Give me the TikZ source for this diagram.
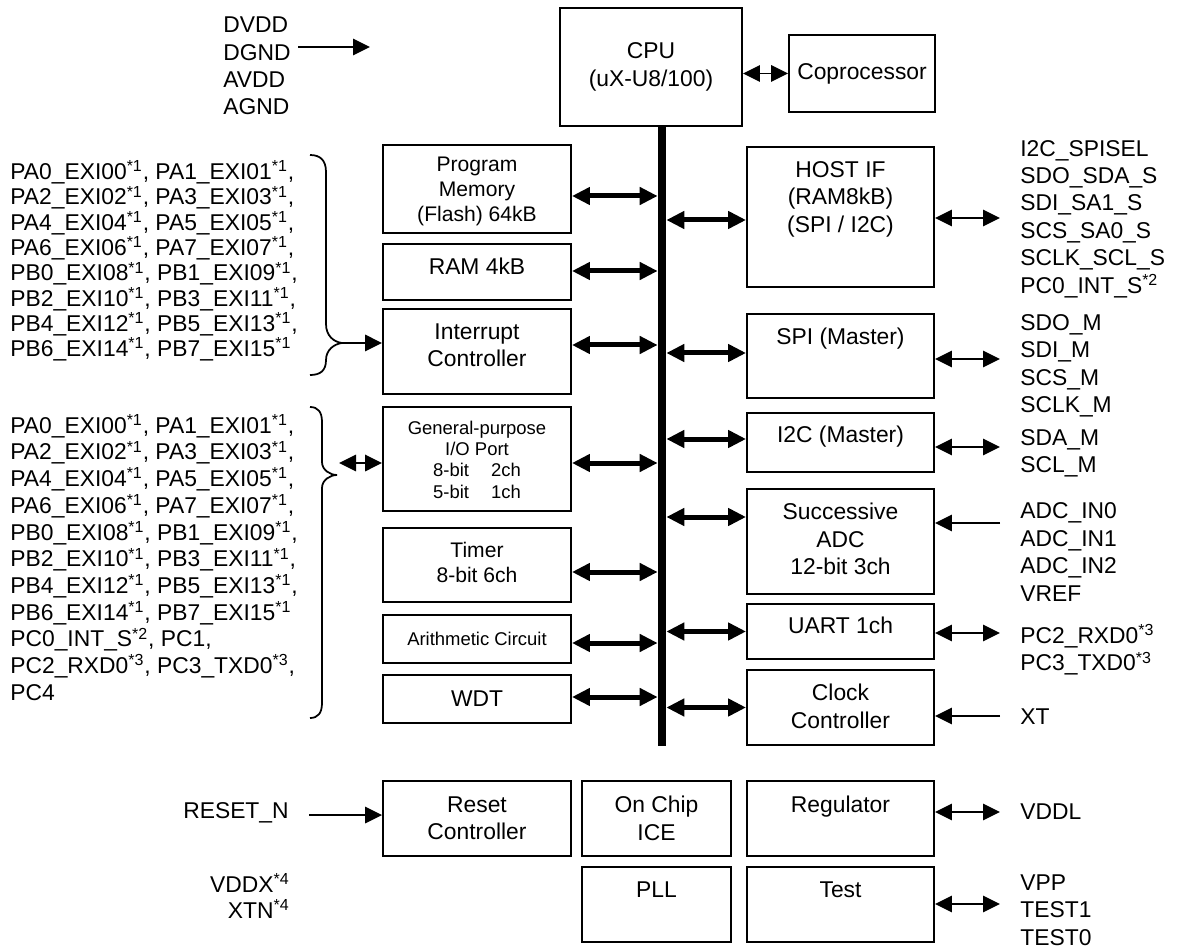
\documentclass[tikz,border=0pt]{standalone}
\usepackage{fontspec}
\setmainfont{Liberation Sans}
\usetikzlibrary{arrows.meta}
\newcommand\pinnote[1]{\textsuperscript{*#1}}

\begin{document}
\begin{tikzpicture}[x=0.2mm,y=-0.2mm,
  font=\fontsize{13}{15.6}\selectfont,
  blk/.style={draw,line width=1.1pt,inner sep=0pt},
  lcol/.style={blk,minimum width=37.6mm},
  rcol/.style={blk,minimum width=37.4mm},
  intext/.style={anchor=north,align=center,inner sep=0pt,yshift=-3mm},
  busarr/.style={line width=1mm,{Triangle[length=3.6mm,width=3.4mm]}-{Triangle[length=3.6mm,width=3.4mm]}},
  pinarr/.style={line width=0.35mm,-{Triangle[length=3.4mm,width=3.3mm]}},
  pinbi/.style={line width=0.35mm,{Triangle[length=3.4mm,width=3.3mm]}-{Triangle[length=3.4mm,width=3.3mm]}},
  pins/.style={align=left,anchor=west,inner sep=0pt}]
  \useasboundingbox (0,0) rectangle (1181,950);

  % cpu and bus
  \node[blk,minimum width=36.4mm,minimum height=23.6mm,align=center] (cpu) at (651,67) {CPU\\(uX-U8/100)};
  \node[blk,minimum width=29.2mm,minimum height=15.4mm] (cop) at (862,73.5) {Coprocessor};
  \draw[pinbi] (cpu.east |- cop.west) -- (cop.west);
  \node[fill,inner sep=0pt,minimum width=1.6mm,minimum height=124mm] (bus) at (662,436) {};

  % left blocks
  \node[lcol,minimum height=17.6mm,label={[intext,yshift=0.4mm,font=\fontsize{12}{14}\selectfont]north:Program\\Memory\\(Flash) 64kB}] (pm) at (477,189) {};
  \node[lcol,minimum height=11.2mm,label={[intext]north:RAM 4kB}] (ram) at (477,272) {};
  \node[lcol,minimum height=17mm,label={[intext]north:Interrupt\\Controller}] (int) at (477,351.5) {};
  \node[lcol,minimum height=20.8mm,label={[intext,font=\fontsize{10.5}{12}\selectfont]north:General-purpose\\I/O Port\\8-bit\hspace{1.2em}2ch\\5-bit\hspace{1.2em}1ch}] (gpio) at (477,459) {};
  \node[lcol,minimum height=14.8mm,label={[intext,font=\fontsize{12}{14.2}\selectfont]north:Timer\\8-bit 6ch}] (timer) at (477,565) {};
  \node[lcol,minimum height=9.6mm,font=\fontsize{10.5}{12}\selectfont] (arith) at (477,639) {Arithmetic Circuit};
  \node[lcol,minimum height=9.6mm] (wdt) at (477,699) {WDT};

  % right blocks
  \node[rcol,minimum height=28mm,label={[intext]north:HOST IF\\(RAM8kB)\\(SPI / I2C)}] (host) at (840.5,217) {};
  \node[rcol,minimum height=16.8mm,label={[intext]north:SPI (Master)}] (spi) at (840.5,356) {};
  \node[rcol,minimum height=11.8mm,label={[intext,yshift=0.2mm]north:I2C (Master)}] (i2c) at (840.5,442.5) {};
  \node[rcol,minimum height=21mm,label={[intext]north:Successive\\ADC\\12-bit 3ch}] (adc) at (840.5,541.5) {};
  \node[rcol,minimum height=11mm,label={[intext,yshift=0.2mm]north:UART 1ch}] (uart) at (840.5,631.5) {};
  \node[rcol,minimum height=15mm,label={[intext]north:Clock\\Controller}] (clk) at (840.5,707.5) {};

  \foreach \b/\s in {pm/-1.4,ram/0.2,int/1.3,gpio/-0.8,timer/-1.4,arith/-0.8,wdt/0.4}
    \draw[busarr] ([yshift=\s mm]\b.east) -- ([yshift=\s mm]bus.west |- \b.east);
  \foreach \b/\s in {host/-0.6,spi/0.6,i2c/0.7,adc/4.9,uart/0,clk/0}
    \draw[busarr] ([yshift=\s mm]bus.east |- \b.west) -- ([yshift=\s mm]\b.west);

  % bottom row
  \node[lcol,minimum height=15mm,label={[intext,yshift=-0.2mm]north:Reset\\Controller}] (reset) at (477,818.5) {};
  \node[blk,minimum width=29.8mm,minimum height=15mm,label={[intext,yshift=-0.2mm]north:On Chip\\ICE}] (ice) at (656.5,818.5) {};
  \node[rcol,minimum height=15mm,label={[intext,yshift=-0.2mm]north:Regulator}] (reg) at (840.5,818.5) {};
  \node[blk,minimum width=29.8mm,minimum height=15mm,label={[intext]north:PLL}] (pll) at (656.5,904.5) {};
  \node[rcol,minimum height=15mm,label={[intext]north:Test}] (test) at (840.5,904.5) {};

  % pins on the left
  \node[pins] (pwrpins) at (223,66) {DVDD\\DGND\\AVDD\\AGND};
  \coordinate (pwri) at (298,47);
  \coordinate (pwro) at (370,47);
  \draw[pinarr] (pwri) -- (pwro);

  \node[pins,font=\fontsize{13}{14.4}\selectfont] (intpins) at (10,261) {PA0\_EXI00\pinnote1, PA1\_EXI01\pinnote1,\\PA2\_EXI02\pinnote1, PA3\_EXI03\pinnote1,\\PA4\_EXI04\pinnote1, PA5\_EXI05\pinnote1,\\PA6\_EXI06\pinnote1, PA7\_EXI07\pinnote1,\\PB0\_EXI08\pinnote1, PB1\_EXI09\pinnote1,\\PB2\_EXI10\pinnote1, PB3\_EXI11\pinnote1,\\PB4\_EXI12\pinnote1, PB5\_EXI13\pinnote1,\\PB6\_EXI14\pinnote1, PB7\_EXI15\pinnote1};
  \draw[line width=0.35mm] (310,155) .. controls (320,155) and (326,160) .. (326,172) -- (326,324)
    .. controls (326,336) and (334,342) .. (342,343) .. controls (334,344) and (326,350) .. (326,360)
    .. controls (326,371) and (320,375) .. (310,375);
  \coordinate (intin) at (342,343);
  \draw[pinarr] (intin) -- (intin -| int.west);

  \node[pins,font=\fontsize{13}{15.2}\selectfont] (iopins) at (10,557.5) {PA0\_EXI00\pinnote1, PA1\_EXI01\pinnote1,\\PA2\_EXI02\pinnote1, PA3\_EXI03\pinnote1,\\PA4\_EXI04\pinnote1, PA5\_EXI05\pinnote1,\\PA6\_EXI06\pinnote1, PA7\_EXI07\pinnote1,\\PB0\_EXI08\pinnote1, PB1\_EXI09\pinnote1,\\PB2\_EXI10\pinnote1, PB3\_EXI11\pinnote1,\\PB4\_EXI12\pinnote1, PB5\_EXI13\pinnote1,\\PB6\_EXI14\pinnote1, PB7\_EXI15\pinnote1\\PC0\_INT\_S\pinnote2, PC1,\\PC2\_RXD0\pinnote3, PC3\_TXD0\pinnote3,\\PC4};
  \draw[line width=0.35mm] (310,407) .. controls (318,407) and (322,412) .. (322,422) -- (322,462)
    .. controls (322,470) and (330,475) .. (337,475) .. controls (330,475) and (322,480) .. (322,488)
    -- (322,703) .. controls (322,713) and (318,718) .. (310,718);
  \coordinate (gpin) at (339,463);
  \draw[pinbi] (gpin) -- (gpin -| gpio.west);

  \node[pins,anchor=east] (rstpin) at (289,813) {RESET\_N};
  \coordinate (rsti) at (309,815);
  \draw[pinarr] (rsti) -- (rsti -| reset.west);
  \node[pins,anchor=east,align=right,font=\fontsize{13}{14.5}\selectfont] (xpins) at (290,896) {VDDX\pinnote4\\XTN\pinnote4};

  % pins on the right
  \node[pins] (hostpins) at (1020,219) {I2C\_SPISEL\\SDO\_SDA\_S\\SDI\_SA1\_S\\SCS\_SA0\_S\\SCLK\_SCL\_S\\PC0\_INT\_S\pinnote2};
  \node[pins] (spipins) at (1020,366) {SDO\_M\\SDI\_M\\SCS\_M\\SCLK\_M};
  \node[pins] (i2cpins) at (1020,453.5) {SDA\_M\\SCL\_M};
  \node[pins] (adcpins) at (1020,552) {ADC\_IN0\\ADC\_IN1\\ADC\_IN2\\VREF};
  \node[pins] (uartpins) at (1020,650) {PC2\_RXD0\pinnote3\\PC3\_TXD0\pinnote3};
  \node[pins] (xtpin) at (1020,717) {XT};
  \node[pins] (vddlpin) at (1020,812) {VDDL};
  \node[pins] (testpins) at (1020,910) {VPP\\TEST1\\TEST0};

  \coordinate (hosto) at (1000,218);
  \coordinate (spio) at (1000,359);
  \coordinate (i2co) at (1000,447);
  \coordinate (adci) at (1000,523);
  \coordinate (uarto) at (1000,633);
  \coordinate (xti) at (1000,716);
  \coordinate (vddlo) at (1000,812);
  \coordinate (testo) at (1000,904);
  \draw[pinbi] (hosto -| host.east) -- (hosto);
  \draw[pinbi] (spio -| spi.east) -- (spio);
  \draw[pinbi] (i2co -| i2c.east) -- (i2co);
  \draw[pinarr] (adci) -- (adci -| adc.east);
  \draw[pinbi] (uarto -| uart.east) -- (uarto);
  \draw[pinarr] (xti) -- (xti -| clk.east);
  \draw[pinbi] (vddlo -| reg.east) -- (vddlo);
  \draw[pinbi] (testo -| test.east) -- (testo);
\end{tikzpicture}
\end{document}
